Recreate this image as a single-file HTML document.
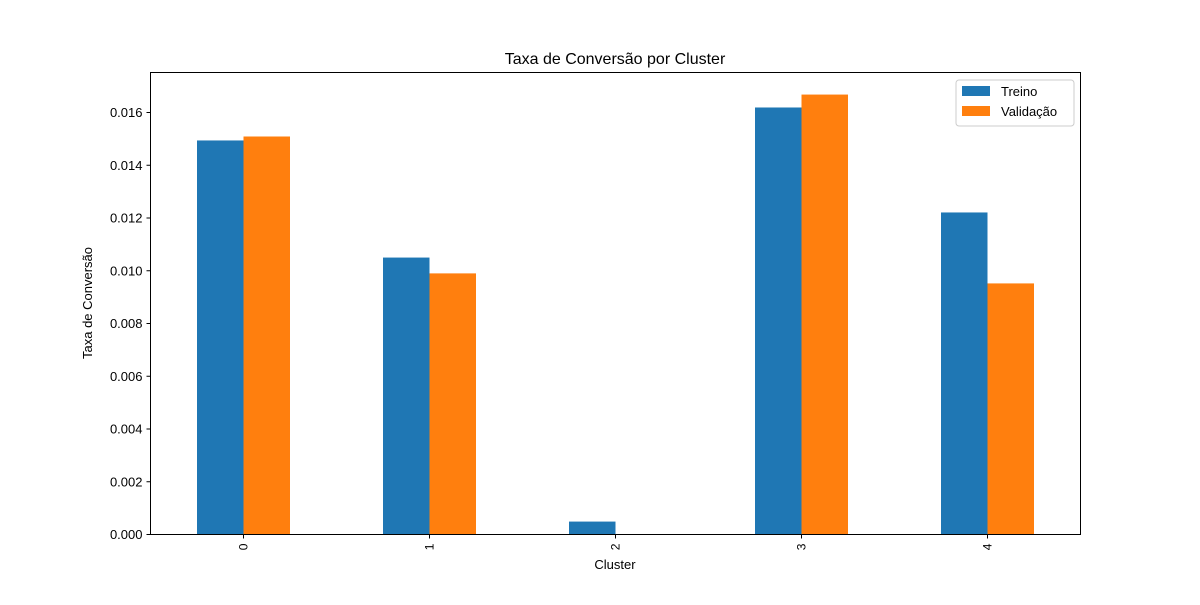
<!DOCTYPE html>
<html><head><meta charset="utf-8"><style>body{margin:0;background:#fff}svg{font-family:"Liberation Sans","DejaVu Sans",sans-serif}</style></head>
<body>
<svg id="chart" width="1200" height="600" xmlns="http://www.w3.org/2000/svg">
<rect width="1200" height="600" fill="#fff"/>
<text x="615" y="64" text-anchor="middle" font-size="16">Taxa de Conversão por Cluster</text>
<g id="bars"></g>
<g id="axes"></g>
<rect x="150.5" y="72.5" width="930" height="462" fill="none" stroke="#000" stroke-width="1"/>
<text x="615" y="569" text-anchor="middle" font-size="13">Cluster</text>
<text transform="translate(92,303) rotate(-90)" text-anchor="middle" font-size="13">Taxa de Conversão</text>
<g>
<rect x="956" y="80" width="118" height="46" rx="3" fill="#fff" fill-opacity="0.8" stroke="#ccc"/>
<rect x="962" y="86" width="28" height="10" fill="#1f77b4"/>
<text x="1001" y="96" font-size="13">Treino</text>
<rect x="962" y="106" width="28" height="10" fill="#ff7f0e"/>
<text x="1001" y="116" font-size="13">Validação</text>
</g>
</svg>
<script>
const categories = ["0","1","2","3","4"];
const treino = [0.01494, 0.0105, 0.00049, 0.01619, 0.01221];
const validacao = [0.01509, 0.0099, 0.0, 0.01668, 0.00952];
const yTicks = [0,0.002,0.004,0.006,0.008,0.010,0.012,0.014,0.016];
const yTickLabels = ["0.000","0.002","0.004","0.006","0.008","0.010","0.012","0.014","0.016"];
const NS="http://www.w3.org/2000/svg";
const L=150.5,R=1080.5,T=72.5,B=534.5;
const yMax=0.016/ (422/462);
const y=v=>B-(v/yMax)*(B-T);
const step=(R-L)/categories.length;
const xc=i=>L+step*(i+0.5);
const bw=step*0.25;
const bars=document.getElementById('bars'), axes=document.getElementById('axes');
function mk(tag,attrs,parent){const e=document.createElementNS(NS,tag);for(const k in attrs)e.setAttribute(k,attrs[k]);parent.appendChild(e);return e;}
categories.forEach((c,i)=>{
  let r=mk('rect',{x:xc(i)-bw,y:y(treino[i]),width:bw,height:B-y(treino[i]),fill:'#1f77b4'},bars);
  
  
  r=mk('rect',{x:xc(i),y:y(validacao[i]),width:bw,height:B-y(validacao[i]),fill:'#ff7f0e'},bars);
  
  
  const t=mk('line',{x1:xc(i),x2:xc(i),y1:B,y2:B+4,stroke:'#000'},axes);
  
  
  const lb=mk('text',{transform:`translate(${xc(i)+4},${B+9}) rotate(-90)`,'text-anchor':'end','font-size':'12'},axes);
  lb.textContent=c;
  
  
});
yTicks.forEach((v,i)=>{
  const t=mk('line',{x1:L-4,x2:L,y1:y(v),y2:y(v),stroke:'#000'},axes);
  
  
  const lb=mk('text',{x:L-8,y:y(v)+4.5,'text-anchor':'end','font-size':'13'},axes);
  lb.textContent=yTickLabels[i];
  
  
});
</script>
</body></html>
